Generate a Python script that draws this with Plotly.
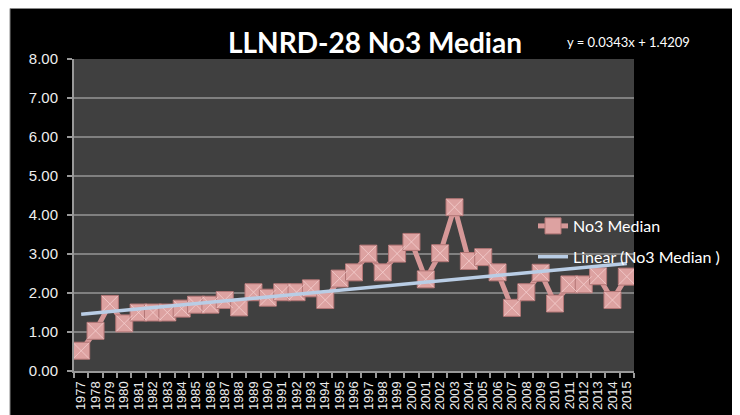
import plotly.graph_objects as go

years = [str(y) for y in range(1977, 2016)]
no3_median = [0.52, 1.03, 1.72, 1.22, 1.50, 1.50, 1.50, 1.60, 1.70, 1.70,
              1.82, 1.63, 2.02, 1.88, 2.02, 2.02, 2.12, 1.82, 2.37, 2.53,
              3.01, 2.53, 3.01, 3.31, 2.35, 3.02, 4.20, 2.82, 2.92, 2.53,
              1.62, 2.02, 2.52, 1.73, 2.22, 2.22, 2.43, 1.82, 2.42]
trend_slope = 0.0343
trend_intercept = 1.4209
y_ticks = [0, 1, 2, 3, 4, 5, 6, 7, 8]

trend = [trend_slope * (i + 1) + trend_intercept for i in range(len(years))]

# page body has an 8px margin; measurements below are screen pixels
OFF = 8
W, H = 740 - OFF, 415 - OFF
L, R, T, B = 74 - OFF, 634 - OFF, 59 - OFF, 371 - OFF
pw, ph = R - L, B - T


def px(xs):
    return (xs - OFF - L) / pw


def py(ys):
    return (B - (ys - OFF)) / ph


fig = go.Figure()

fig.add_trace(go.Scatter(
    x=years, y=no3_median, mode="lines+markers", name="No3 Median",
    line=dict(color="#D69898", width=5),
    marker=dict(symbol="square", size=17, color="#DDA2A1",
                line=dict(color="#B27575", width=1)),
    legendgroup="a",
))
fig.add_trace(go.Scatter(
    x=years, y=no3_median, mode="markers", showlegend=False,
    marker=dict(symbol="x-thin", size=16,
                line=dict(color="rgba(245,210,209,0.75)", width=1)),
    hoverinfo="skip",
))
fig.add_trace(go.Scatter(
    x=years, y=trend, mode="lines", name="Linear (No3 Median )",
    line=dict(color="#B9CDE5", width=3.5),
    legendgroup="b",
))

shapes = [
    dict(type="rect", xref="paper", yref="paper", x0=px(0), x1=px(10),
         y0=py(500), y1=py(0), fillcolor="white", line=dict(width=0), layer="below"),
    dict(type="line", xref="paper", yref="paper", x0=px(10), x1=px(800),
         y0=py(8.5), y1=py(8.5), line=dict(color="#888888", width=1), layer="below"),
    dict(type="line", xref="paper", yref="paper", x0=px(10), x1=px(10),
         y0=py(500), y1=py(8.5), line=dict(color="#888888", width=1), layer="below"),
]

annotations = [
    dict(text="<b>LLNRD-28 No3 Median</b>", xref="paper", yref="paper",
         x=px(375), y=py(42), xanchor="center", yanchor="middle", showarrow=False,
         font=dict(family="Lato", size=28, color="white")),
    dict(text="y = 0.0343x + 1.4209", xref="paper", yref="paper",
         x=px(565), y=py(42), xanchor="left", yanchor="middle", showarrow=False,
         font=dict(family="Lato", size=13, color="white")),
]

fig.update_layout(
    width=W, height=H,
    margin=dict(l=L, r=W - R, t=T, b=H - B, pad=0, autoexpand=False),
    paper_bgcolor="black",
    plot_bgcolor="#404040",
    shapes=shapes,
    annotations=annotations,
    showlegend=True,
    legend=dict(x=px(533), y=py(209), xanchor="left", yanchor="top",
                bgcolor="rgba(0,0,0,0)", font=dict(family="Lato", size=16, color="white"),
                traceorder="grouped", tracegroupgap=7, itemwidth=30),
    xaxis=dict(type="category", range=[-0.5, len(years) - 0.5], automargin=False,
               tickmode="array", tickvals=years, ticktext=years,
               tickson="boundaries", ticks="outside", ticklen=5, tickcolor="#999999",
               tickwidth=1.5, showline=True, linecolor="#999999", linewidth=2,
               showgrid=False, tickangle=-90, ticklabelstandoff=3,
               tickfont=dict(family="Liberation Sans", size=13, color="#EEEEEE")),
    yaxis=dict(range=[0, 8], tickvals=y_ticks, tickformat=".2f", automargin=False,
               ticks="outside", ticklen=5, tickcolor="#999999", tickwidth=1.5,
               showline=True, linecolor="#999999", linewidth=2,
               gridcolor="#808080", gridwidth=2, zeroline=False,
               ticklabelstandoff=6,
               tickfont=dict(family="Liberation Sans", size=15, color="#EEEEEE")),
)

fig.write_html("out.html")
